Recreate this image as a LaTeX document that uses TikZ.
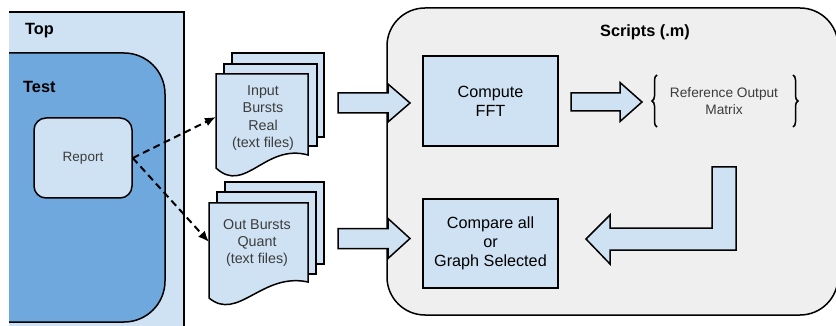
\documentclass[tikz,border=0pt]{standalone}
\usepackage{fontspec}
\setmainfont{Liberation Sans}
\usetikzlibrary{arrows.meta,decorations.pathreplacing}
\definecolor{paleblue}{HTML}{CFE2F3}
\definecolor{midblue}{HTML}{6FA8DC}
\definecolor{panelgray}{HTML}{EFEFEF}
\definecolor{softtext}{HTML}{3C3C3C}

% block arrow: x start, x of head base, x of tip, y centre, shaft half-height, head half-height
\newcommand\blockarrow[6]{%
  \draw[fatarrow] (#1,{#4-#5}) -- (#2,{#4-#5}) -- (#2,{#4-#6}) -- (#3,#4)
    -- (#2,{#4+#6}) -- (#2,{#4+#5}) -- (#1,{#4+#5}) -- cycle;}

\tikzset{
  edge/.style={draw=black, line width=1.5pt},
  fatarrow/.style={edge, fill=paleblue, line join=miter},
  procbox/.style={edge, fill=paleblue, minimum width=135pt, minimum height=90pt,
    align=center, inner sep=0pt, font=\fontsize{16.2}{19}\selectfont},
  sheet/.style={edge, fill=paleblue, line join=miter},
  sheettext/.style={align=center, text=softtext, inner sep=0pt,
    font=\fontsize{14.3}{17.3}\selectfont},
  heading/.style={font=\bfseries\fontsize{16.3}{18}\selectfont, inner sep=0pt},
  dashlink/.style={line width=2pt, dash pattern=on 7pt off 4.5pt,
    -{Latex[length=11pt,width=9pt]}},
  bracket/.style={decorate, decoration={brace, amplitude=5pt}, line width=1.5pt},
}

\begin{document}
\begin{tikzpicture}[x=1pt, y=-1pt]
\useasboundingbox (0,0) rectangle (836,326);
\begin{scope}
\clip (9,-2) rectangle (836,326);

% outer "Top" container and the nested "Test" block
\fill[paleblue] (0,12) rectangle (184,340);
\draw[edge] (9,12) -- (184,12) -- (184,340);
\draw[edge, fill=midblue, rounded corners=41pt] (-60,53) rectangle (165,322);
\node[heading, anchor=west] (toplbl) at (25,31) {Top};
\node[heading, anchor=west] (testlbl) at (23,87) {Test};

\node[edge, fill=paleblue, rounded corners=12pt, minimum width=98pt,
  minimum height=80pt, text=softtext, font=\fontsize{13.5}{16}\selectfont]
  (report) at (83,158) {Report};

% scripts panel
\draw[edge, fill=panelgray, rounded corners=38pt] (387,8) rectangle (838,315);
\node[heading] (scriptslbl) at (645,32) {Scripts (.m)};

% input bursts document stack
\draw[sheet] (232,53) rectangle (324,137);
\draw[sheet] (224,64) rectangle (317,146);
\draw[sheet] (216,74) -- (308,74) -- (308,155)
  .. controls (265,143) and (245,195) .. (216,168) -- cycle;
\node[sheettext] (inDoc) at (263,118) {Input\\Bursts\\Real\\(text files)};
\coordinate (inEdge) at (216,117);

% output bursts document stack
\draw[sheet] (225,182) rectangle (324,264);
\draw[sheet] (217,192) rectangle (316,274);
\draw[sheet] (209,203) -- (308,203) -- (308,282)
  .. controls (262,272) and (238,322) .. (209,298) -- cycle;
\node[sheettext] (outDoc) at (257,243) {Out Bursts\\Quant\\(text files)};
\coordinate (outEdge) at (209,242);

% report writes both document sets
\draw[dashlink] (report.east) -- (inEdge);
\draw[dashlink] (report.east) -- (outEdge);

% processing blocks
\node[procbox] (fft) at (490.5,101) {Compute\\FFT};
\node[procbox, minimum height=89pt] (compare) at (490.5,243.5)
  {\raisebox{7pt}{\parbox{135pt}{\centering Compare all\\or\\Graph Selected}}};

% reference output matrix
\node[sheettext, text=softtext, font=\fontsize{13.7}{17}\selectfont] (refout)
  at (724,101) {Reference Output\\Matrix};
\draw[bracket] (657,127) -- (657,75);
\draw[bracket] (793,75) -- (793,127);

% data flow arrows
\blockarrow{338}{388}{410}{103}{10}{19}
\blockarrow{338}{388}{410}{238.5}{10}{20}
\blockarrow{571}{620}{642}{102}{9}{19.5}
\draw[fatarrow] (712,167) -- (736,167) -- (736,250) -- (610,250) -- (610,264)
  -- (586,239) -- (610,215) -- (610,228) -- (712,228) -- cycle;
\end{scope}
\end{tikzpicture}
\end{document}
